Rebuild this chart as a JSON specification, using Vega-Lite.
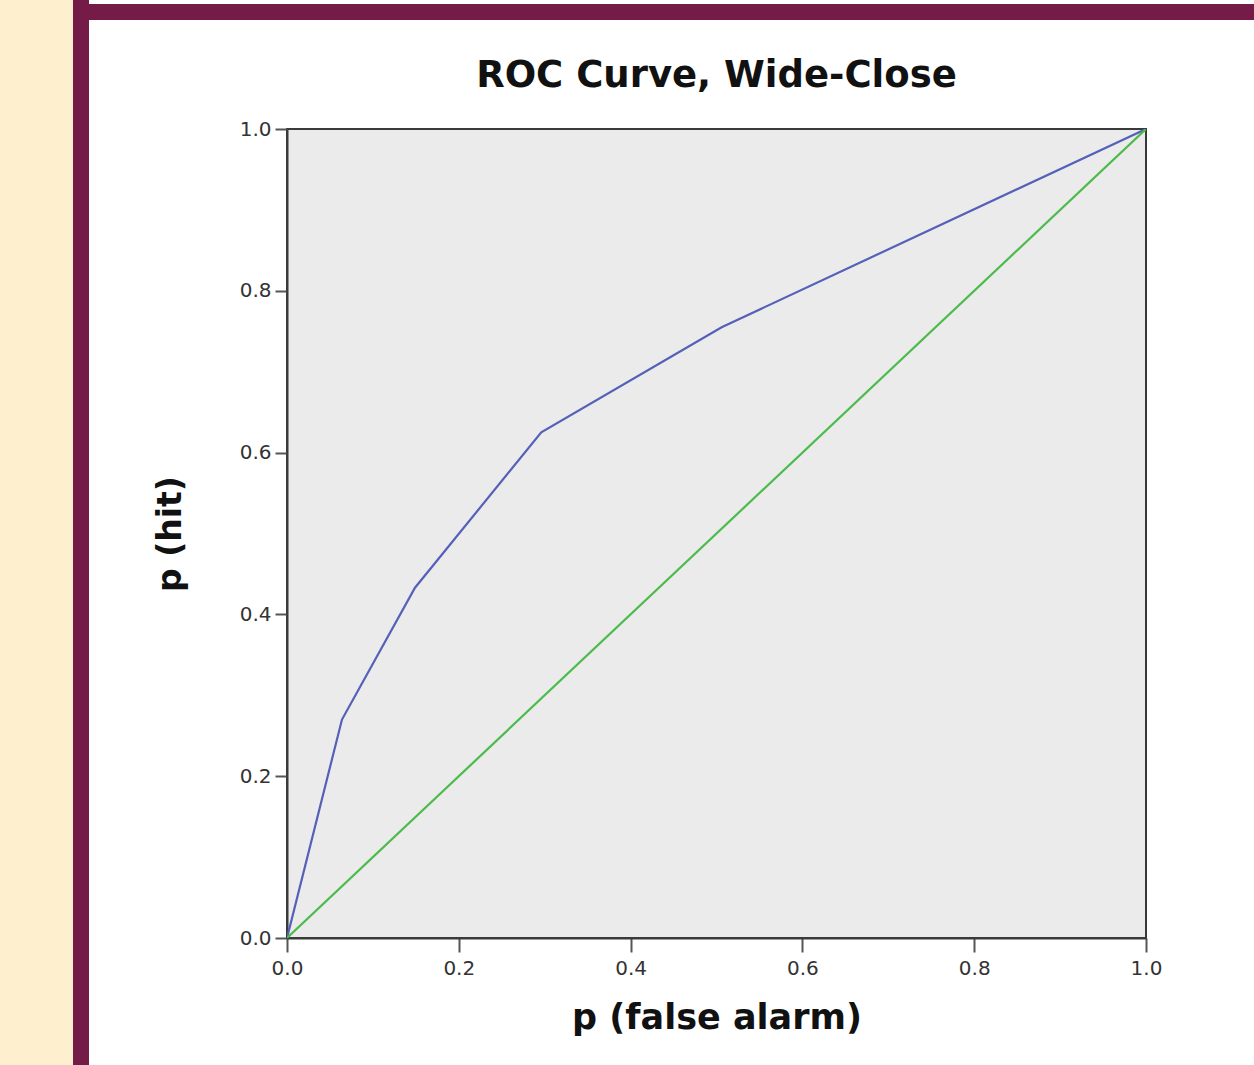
{
  "$schema": "https://vega.github.io/schema/vega-lite/v6.json",
  "background": "white",
  "padding": 0,
  "spacing": 0,
  "bounds": "flush",
  "config": {
    "view": {"stroke": null},
    "concat": {"spacing": 0},
    "font": "DejaVu Sans"
  },
  "hconcat": [
    {"width": 73, "height": 1065, "data": {"values": []}, "mark": "rect", "view": {"fill": "#FEF0CE"}},
    {"width": 16, "height": 1065, "data": {"values": []}, "mark": "rect", "view": {"fill": "#741C47"}},
    {
      "spacing": 0,
      "bounds": "flush",
      "vconcat": [
        {"width": 1165, "height": 4, "data": {"values": []}, "mark": "rect"},
        {"width": 1165, "height": 16, "data": {"values": []}, "mark": "rect", "view": {"fill": "#741C47"}},
        {"width": 1165, "height": 109, "data": {"values": []}, "mark": "rect"},
        {
          "spacing": 0,
          "bounds": "flush",
          "hconcat": [
            {"width": 198, "height": 809, "data": {"values": []}, "mark": "rect"},
            {
              "width": 859,
              "height": 809,
              "view": {"fill": "#EBEBEB", "stroke": "#3A3A3A", "strokeWidth": 2},
              "title": {
                "text": "ROC Curve, Wide-Close",
                "fontSize": 37,
                "fontWeight": "bold",
                "font": "DejaVu Sans",
                "color": "#111111",
                "anchor": "middle",
                "frame": "group",
                "baseline": "alphabetic",
                "offset": -5
              },
              "data": {
                "values": [
                  {"series": "ROC", "order": 0, "fa": 0.0, "hit": 0.0},
                  {"series": "ROC", "order": 1, "fa": 0.064, "hit": 0.270},
                  {"series": "ROC", "order": 2, "fa": 0.149, "hit": 0.433},
                  {"series": "ROC", "order": 3, "fa": 0.296, "hit": 0.625},
                  {"series": "ROC", "order": 4, "fa": 0.506, "hit": 0.755},
                  {"series": "ROC", "order": 5, "fa": 1.0, "hit": 1.0},
                  {"series": "Chance", "order": 0, "fa": 0.0, "hit": 0.0},
                  {"series": "Chance", "order": 1, "fa": 1.0, "hit": 1.0}
                ]
              },
              "mark": {"type": "line", "strokeWidth": 2.2, "clip": true},
              "encoding": {
                "x": {
                  "field": "fa",
                  "type": "quantitative",
                  "scale": {"domain": [0, 1], "nice": false, "zero": false},
                  "axis": {
                    "title": "p (false alarm)",
                    "values": [0, 0.2, 0.4, 0.6, 0.8, 1.0],
                    "format": ".1f",
                    "grid": false,
                    "labelFlush": false,
                    "domainColor": "#3A3A3A",
                    "domainWidth": 2,
                    "tickColor": "#555555",
                    "tickWidth": 2,
                    "tickSize": 14,
                    "labelPadding": 6,
                    "labelFontSize": 20,
                    "labelColor": "#333333",
                    "labelFont": "DejaVu Sans",
                    "titleFont": "DejaVu Sans",
                    "titleFontSize": 35,
                    "titleFontWeight": "bold",
                    "titleColor": "#111111",
                    "titlePadding": 22
                  }
                },
                "y": {
                  "field": "hit",
                  "type": "quantitative",
                  "scale": {"domain": [0, 1], "nice": false, "zero": false},
                  "axis": {
                    "title": "p (hit)",
                    "values": [0, 0.2, 0.4, 0.6, 0.8, 1.0],
                    "format": ".1f",
                    "grid": false,
                    "labelFlush": false,
                    "domainColor": "#3A3A3A",
                    "domainWidth": 2,
                    "tickColor": "#555555",
                    "tickWidth": 2,
                    "tickSize": 12,
                    "labelPadding": 4,
                    "labelFontSize": 20,
                    "labelColor": "#333333",
                    "labelFont": "DejaVu Sans",
                    "titleFont": "DejaVu Sans",
                    "titleFontSize": 33,
                    "titleFontWeight": "bold",
                    "titleColor": "#111111",
                    "titlePadding": 52
                  }
                },
                "color": {
                  "field": "series",
                  "type": "nominal",
                  "scale": {"domain": ["ROC", "Chance"], "range": ["#5560B8", "#4CBB4C"]},
                  "legend": null
                },
                "order": {"field": "order", "type": "quantitative"}
              }
            },
            {"width": 108, "height": 809, "data": {"values": []}, "mark": "rect"}
          ]
        },
        {"width": 1165, "height": 127, "data": {"values": []}, "mark": "rect"}
      ]
    }
  ]
}
